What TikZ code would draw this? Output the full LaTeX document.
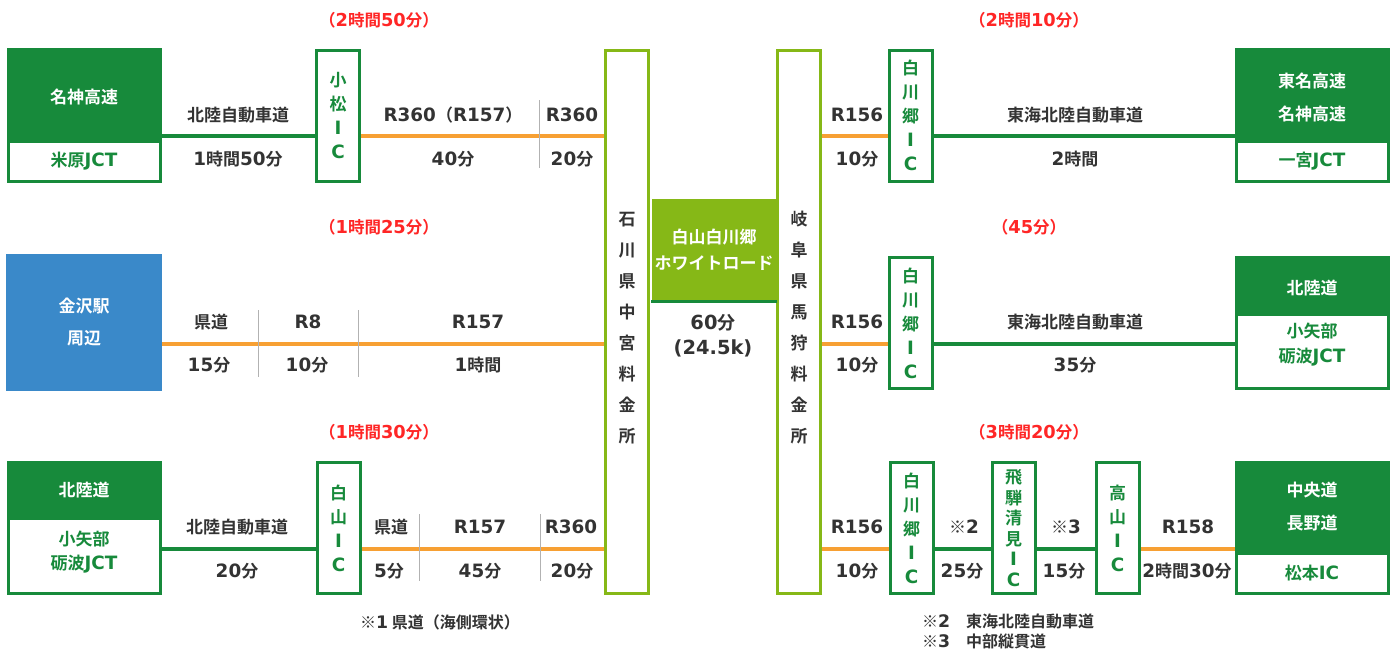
\documentclass[tikz,border=0pt]{standalone}
\usepackage{fontspec}
\setmainfont{Noto Sans CJK JP}[BoldFont={Noto Sans CJK JP Bold}]
\newfontfamily\latfont{DejaVu Sans}[Scale=1.08]
\usetikzlibrary{positioning}

\definecolor{dgreen}{HTML}{178A3B}
\definecolor{lgreen}{HTML}{86B817}
\definecolor{road}{HTML}{F7A033}
\definecolor{kblue}{HTML}{3A89C9}
\definecolor{ink}{HTML}{333333}
\definecolor{redtxt}{HTML}{FF2626}

% latin letters and digits in a wider sans
\newcommand{\lat}[1]{{\latfont #1}}
\newcommand{\lbl}{\bfseries\fontsize{17}{21}\selectfont}
\newcommand{\ictxt}{\bfseries\fontsize{17}{24}\selectfont}
\newcommand{\gatetxt}{\bfseries\fontsize{17}{31}\selectfont}
\newcommand{\twolines}{\bfseries\fontsize{17}{33}\selectfont}
\newcommand{\notetxt}{\bfseries\fontsize{16}{20}\selectfont}

\begin{document}
\begin{tikzpicture}[x=1pt, y=-1pt,
    every node/.style={inner sep=0pt, text=ink, font=\lbl},
    hwy/.style={dgreen, line width=3.5pt},
    kendo/.style={road, line width=4pt},
    sep/.style={black!30, line width=1pt},
    icbox/.style={draw=dgreen, line width=3pt, fill=white, minimum width=43pt,
        minimum height=131pt, text=dgreen, align=center, font=\ictxt},
    jctbox/.style={draw=dgreen, fill=dgreen, line width=3pt, minimum width=152pt,
        minimum height=131pt},
    jctname/.style={draw=dgreen, fill=white, line width=3pt, minimum width=152pt,
        text=dgreen, align=center, font=\bfseries\fontsize{17}{25}\selectfont},
    hwyname/.style={text=white, align=center, font=\twolines},
    gate/.style={draw=lgreen, line width=3pt, fill=white, minimum width=43pt,
        minimum height=543pt},
    total/.style={text=redtxt, font=\bfseries\fontsize{16.5}{20}\selectfont},
    note/.style={font=\notetxt}]
\useasboundingbox (0,0) rectangle (1394,653);

% ruta de los tres tramos
\coordinate (r1) at (0,136);
\coordinate (r2) at (0,344);
\coordinate (r3) at (0,549);

% peajes y carretera central
\node[gate] (ishikawa) at (627,322) {};
\node[align=center, font=\gatetxt] (ishikawa-t) at (627,328) {石\\川\\県\\中\\宮\\料\\金\\所};
\node[gate] (gifu) at (799,322) {};
\node[align=center, font=\gatetxt] (gifu-t) at (799,328) {岐\\阜\\県\\馬\\狩\\料\\金\\所};
\node[fill=lgreen, minimum width=125pt, minimum height=102pt, text=white,
    align=center, font=\bfseries\fontsize{17}{26}\selectfont]
    (wroad) at (714,250) {白山白川郷\\ホワイトロード};
\draw[dgreen, line width=3pt] (wroad.south west) -- (wroad.south east);
\node[align=center, font=\bfseries\fontsize{18}{25}\selectfont] (wtime) at (713,336) {\lat{60}分\\\lat{(24.5k)}};

% fila superior
\node[jctbox, minimum height=132pt] (meishin) at (84,115.5) {};
\node[hwyname] (meishin-t) at (84,97) {名神高速};
\node[jctname, minimum height=40pt] (maibara) at (84,161.5) {米原\lat{JCT}};
\node[icbox] (komatsu) at (338,115.5) {小\\松\\\lat{I}\\\lat{C}};
\node[icbox] (shira1) at (910.5,115.5) {白\\川\\郷\\\lat{I}\\\lat{C}};
\node[jctbox, minimum height=132pt] (tomei) at (1312,115.5) {};
\node[hwyname] (tomei-t) at (1312,97) {東名高速\\名神高速};
\node[jctname, minimum height=40pt] (ichinomiya) at (1312,161.5) {一宮\lat{JCT}};

\draw[hwy] (maibara.east |- r1) -- (komatsu.west |- r1);
\draw[kendo] (komatsu.east |- r1) -- (ishikawa.west |- r1);
\draw[kendo] (gifu.east |- r1) -- (shira1.west |- r1);
\draw[hwy] (shira1.east |- r1) -- (ichinomiya.west |- r1);
\draw[sep] (539,100) -- (539,168);

\node (l1a) at (238,115) {北陸自動車道};
\node (t1a) at (238,159) {\lat{1}時間\lat{50}分};
\node (l1b) at (453,115) {\lat{R360}（\lat{R157}）};
\node (t1b) at (453,159) {\lat{40}分};
\node (l1c) at (572,115) {\lat{R360}};
\node (t1c) at (572,159) {\lat{20}分};
\node (l1d) at (857,115) {\lat{R156}};
\node (t1d) at (857,159) {\lat{10}分};
\node (l1e) at (1075,115) {東海北陸自動車道};
\node (t1e) at (1075,159) {\lat{2}時間};
\node[total] (sum1a) at (379,20) {（\lat{2}時間\lat{50}分）};
\node[total] (sum1b) at (1029,20) {（\lat{2}時間\lat{10}分）};

% fila central
\node[fill=kblue, minimum width=156pt, minimum height=137pt, text=white,
    align=center, font=\bfseries\fontsize{17}{32}\selectfont]
    (kanazawa) at (84,322.5) {金沢駅\\周辺};
\node[icbox] (shira2) at (910.5,323) {白\\川\\郷\\\lat{I}\\\lat{C}};
\node[jctbox] (hokuriku1) at (1312,323) {};
\node[hwyname] (hokuriku1-t) at (1312,288) {北陸道};
\node[jctname, minimum height=74pt] (oyabe1) at (1312,351.5) {};
\node[align=center, text=dgreen, font=\bfseries\fontsize{17}{25}\selectfont]
    (oyabe1-t) at (1312,345) {小矢部\\砺波\lat{JCT}};

\draw[kendo] (kanazawa.east |- r2) -- (ishikawa.west |- r2);
\draw[kendo] (gifu.east |- r2) -- (shira2.west |- r2);
\draw[hwy] (shira2.east |- r2) -- (oyabe1.west |- r2);
\draw[sep] (258,310) -- (258,377);
\draw[sep] (358,310) -- (358,377);

\node (l2a) at (211,322) {県道};
\node (t2a) at (209,365) {\lat{15}分};
\node (l2b) at (308,322) {\lat{R8}};
\node (t2b) at (307,365) {\lat{10}分};
\node (l2c) at (478,322) {\lat{R157}};
\node (t2c) at (478,365) {\lat{1}時間};
\node (l2d) at (857,322) {\lat{R156}};
\node (t2d) at (857,365) {\lat{10}分};
\node (l2e) at (1075,322) {東海北陸自動車道};
\node (t2e) at (1075,365) {\lat{35}分};
\node[total] (sum2a) at (379,227) {（\lat{1}時間\lat{25}分）};
\node[total] (sum2b) at (1029,227) {（\lat{45}分）};

% fila inferior
\node[jctbox] (hokuriku2) at (84,528) {};
\node[hwyname] (hokuriku2-t) at (84,490) {北陸道};
\node[jctname, minimum height=75pt] (oyabe2) at (84,556) {};
\node[align=center, text=dgreen, font=\bfseries\fontsize{17}{24}\selectfont]
    (oyabe2-t) at (84,552) {小矢部\\砺波\lat{JCT}};
\node[icbox] (hakusan) at (338.5,528) {白\\山\\\lat{I}\\\lat{C}};
\node[icbox] (shira3) at (911.5,528) {白\\川\\郷\\\lat{I}\\\lat{C}};
\node[icbox, font=\bfseries\fontsize{17}{20.6}\selectfont] (hida) at (1013.5,528) {飛\\騨\\清\\見\\\lat{I}\\\lat{C}};
\node[icbox] (takayama) at (1117.5,528) {高\\山\\\lat{I}\\\lat{C}};
\node[jctbox] (chuo) at (1312,528) {};
\node[hwyname] (chuo-t) at (1312,507) {中央道\\長野道};
\node[jctname, minimum height=40pt] (matsumoto) at (1312,573.5) {松本\lat{IC}};

\draw[hwy] (oyabe2.east |- r3) -- (hakusan.west |- r3);
\draw[kendo] (hakusan.east |- r3) -- (ishikawa.west |- r3);
\draw[kendo] (gifu.east |- r3) -- (shira3.west |- r3);
\draw[hwy] (shira3.east |- r3) -- (hida.west |- r3);
\draw[hwy] (hida.east |- r3) -- (takayama.west |- r3);
\draw[kendo] (takayama.east |- r3) -- (matsumoto.west |- r3);
\draw[sep] (419,514) -- (419,581);
\draw[sep] (540,514) -- (540,581);

\node (l3a) at (237,527) {北陸自動車道};
\node (t3a) at (237,571) {\lat{20}分};
\node (l3b) at (391,527) {県道};
\node (t3b) at (389,571) {\lat{5}分};
\node (l3c) at (480,527) {\lat{R157}};
\node (t3c) at (480,571) {\lat{45}分};
\node (l3d) at (571,527) {\lat{R360}};
\node (t3d) at (572,571) {\lat{20}分};
\node (l3e) at (857,527) {\lat{R156}};
\node (t3e) at (857,571) {\lat{10}分};
\node (l3f) at (964,527) {※\lat{2}};
\node (t3f) at (962,571) {\lat{25}分};
\node (l3g) at (1066,527) {※\lat{3}};
\node (t3g) at (1064,571) {\lat{15}分};
\node (l3h) at (1188,527) {\lat{R158}};
\node (t3h) at (1187,571) {\lat{2}時間\lat{30}分};
\node[total] (sum3a) at (379,432) {（\lat{1}時間\lat{30}分）};
\node[total] (sum3b) at (1029,432) {（\lat{3}時間\lat{20}分）};

% notas
\node[note] (note1) at (440,622) {※\lat{1} 県道（海側環状）};
\node[note, anchor=west] (note2) at (922,621) {※\lat{2}　東海北陸自動車道};
\node[note, anchor=west] (note3) at (922,641) {※\lat{3}　中部縦貫道};
\end{tikzpicture}
\end{document}
